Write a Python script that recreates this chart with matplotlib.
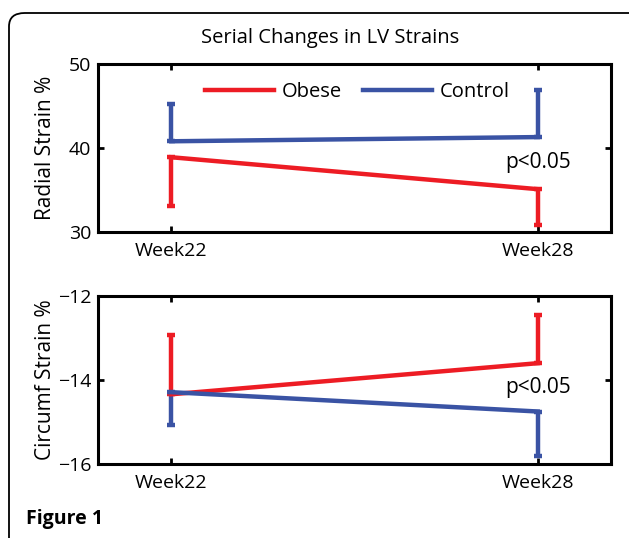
import matplotlib
matplotlib.use('Agg')
import matplotlib.pyplot as plt
from matplotlib.patches import FancyBboxPatch

# x positions / labels
weeks = ["Week22", "Week28"]
week_pos = [1, 2]

# Radial strain (%): means and one-sided error lengths
radial_obese = [38.9, 35.1]
radial_obese_err = [5.8, 4.3]        # drawn downward
radial_control = [40.8, 41.3]
radial_control_err = [4.4, 5.6]      # drawn upward

# Circumferential strain (%)
circ_obese = [-14.34, -13.60]
circ_obese_err = [1.42, 1.15]        # drawn upward
circ_control = [-14.29, -14.75]
circ_control_err = [0.78, 1.07]      # drawn downward

RED = "#ed1c24"
BLUE = "#3a53a4"

plt.rcParams['font.family'] = ['Open Sans', 'DejaVu Sans']

fig = plt.figure(figsize=(6.29, 5.38), dpi=100)
W, H = 629, 538

# rounded outer frame
frame = FancyBboxPatch((9 / W, -0.05), 640 / W, (525 + 538 * 0.05) / H,
                       boxstyle="round,pad=0,rounding_size=0.025",
                       transform=fig.transFigure, fill=False,
                       edgecolor="black", linewidth=1.3, clip_on=False)
fig.patches.append(frame)


def setup(ax, ylim, yticks, ylabel):
    ax.set_xlim(0.8, 2.2)
    ax.set_ylim(*ylim)
    ax.set_xticks(week_pos)
    ax.set_xticklabels(weeks)
    ax.set_yticks(yticks)
    ax.set_yticklabels([str(t).replace("-", "\u2212") for t in yticks])
    ax.set_ylabel(ylabel, fontsize=15)
    ax.yaxis.set_label_coords(-0.082, 0.5)
    ax.tick_params(direction="in", length=4, width=2, labelsize=14,
                   top=True, right=True, pad=5)
    ax.tick_params(axis="x", pad=7)
    for s in ax.spines.values():
        s.set_linewidth(2.2)


def draw(ax, pos, vals, errs, color, upward, label=None):
    if upward:
        yerr = [[0] * len(errs), errs]
    else:
        yerr = [errs, [0] * len(errs)]
    ax.errorbar(pos, vals, yerr=yerr, color=color, lw=3.2, elinewidth=3.2,
                capsize=2.6, capthick=3.2, label=label)


# top panel
ax1 = fig.add_axes([98 / W, 1 - 232 / H, 513 / W, 168 / H])
draw(ax1, week_pos, radial_obese, radial_obese_err, RED, False, "Obese")
draw(ax1, week_pos, radial_control, radial_control_err, BLUE, True, "Control")
setup(ax1, (30, 50), [30, 40, 50], "Radial Strain %")
ax1.text(2.0, 38.3, "p<0.05", ha="center", va="center", fontsize=15)
handles, labels = ax1.get_legend_handles_labels()
handles = [h[0] for h in handles]
ax1.legend(handles, labels, ncol=2, frameon=False, fontsize=14.5,
           loc="center left", bbox_to_anchor=(0.174, 0.835),
           handlelength=3.4, columnspacing=1.05, handletextpad=0.4)

# bottom panel
ax2 = fig.add_axes([98 / W, 1 - 464 / H, 513 / W, 168 / H])
draw(ax2, week_pos, circ_obese, circ_obese_err, RED, True)
draw(ax2, week_pos, circ_control, circ_control_err, BLUE, False)
setup(ax2, (-16, -12), [-16, -14, -12], "Circumf Strain %")
ax2.text(2.0, -14.19, "p<0.05", ha="center", va="center", fontsize=15)

fig.text(330 / W, 1 - 38 / H, "Serial Changes in LV Strains",
         ha="center", va="center", fontsize=14.5)
fig.text(26 / W, 1 - 519 / H, "Figure 1", ha="left", va="center",
         fontsize=14, fontweight="bold")

fig.savefig("out.png", dpi=100)
